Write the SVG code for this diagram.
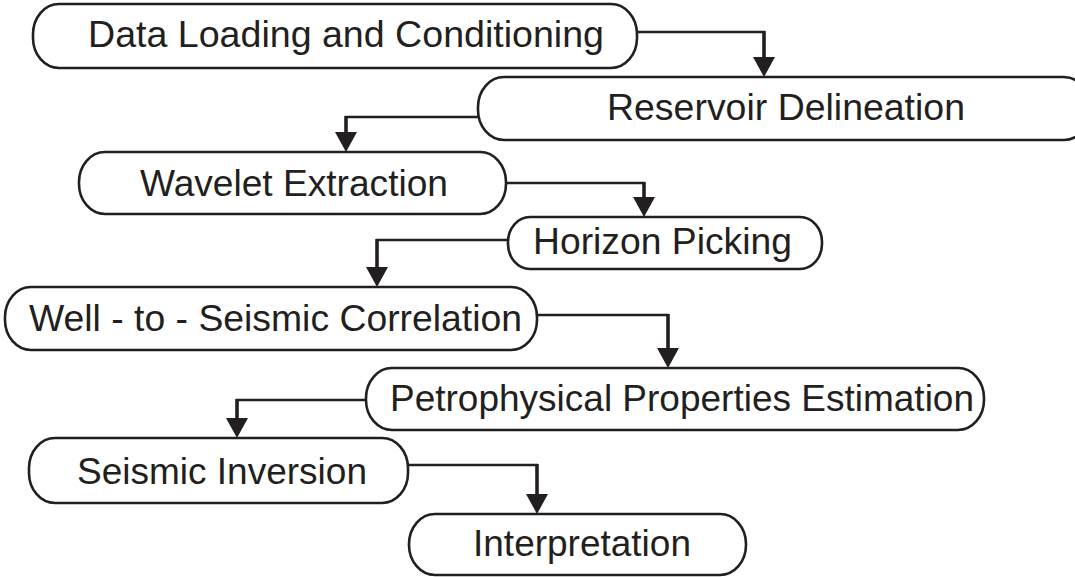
<svg xmlns="http://www.w3.org/2000/svg" width="1075" height="577" viewBox="0 0 1075 577">
<style>
.box{fill:none;stroke:#231f20;stroke-width:2.6}
.lbl{font-family:"Liberation Sans",Arial,sans-serif;font-size:36px;fill:#231f20}
.con{fill:none;stroke:#231f20;stroke-width:2.6}
.conv{fill:none;stroke:#231f20;stroke-width:3.6}
</style>
<defs>
<marker id="ah" markerUnits="userSpaceOnUse" markerWidth="20" markerHeight="22" refX="0" refY="11" orient="auto">
<path d="M0,0 L20,11 L0,22 Z" fill="#231f20"/>
</marker>
</defs>
<rect width="1075" height="577" fill="#ffffff"/>

<g id="n1"><rect class="box" x="33" y="4" width="604" height="64" rx="26" ry="30"/><text class="lbl" x="88" y="47" textLength="516" lengthAdjust="spacingAndGlyphs">Data Loading and Conditioning</text></g>
<g id="n2"><rect class="box" x="478" y="77" width="612" height="63" rx="26" ry="30"/><text class="lbl" x="607" y="120" textLength="358" lengthAdjust="spacingAndGlyphs">Reservoir Delineation</text></g>
<g id="n3"><rect class="box" x="79" y="152" width="427" height="62" rx="26" ry="30"/><text class="lbl" x="140" y="196" textLength="308" lengthAdjust="spacingAndGlyphs">Wavelet Extraction</text></g>
<g id="n4"><rect class="box" x="508" y="217" width="314" height="52" rx="22" ry="25"/><text class="lbl" x="533" y="254" textLength="259" lengthAdjust="spacingAndGlyphs">Horizon Picking</text></g>
<g id="n5"><rect class="box" x="5" y="287" width="532" height="63" rx="26" ry="30"/><text class="lbl" x="29" y="331" textLength="493" lengthAdjust="spacingAndGlyphs">Well - to - Seismic Correlation</text></g>
<g id="n6"><rect class="box" x="366" y="368" width="618" height="62" rx="26" ry="30"/><text class="lbl" x="390" y="411" textLength="584" lengthAdjust="spacingAndGlyphs">Petrophysical Properties Estimation</text></g>
<g id="n7"><rect class="box" x="29" y="438" width="379" height="65" rx="26" ry="30"/><text class="lbl" x="77" y="484" textLength="290" lengthAdjust="spacingAndGlyphs">Seismic Inversion</text></g>
<g id="n8"><rect class="box" x="409" y="514" width="337" height="61" rx="26" ry="30"/><text class="lbl" x="473" y="556" textLength="218" lengthAdjust="spacingAndGlyphs">Interpretation</text></g>

<g id="connectors">
<path class="con" d="M637,32 H765"/><path class="conv" d="M764,31 V57" marker-end="url(#ah)"/>
<path class="con" d="M478,117 H345"/><path class="conv" d="M346,116 V132" marker-end="url(#ah)"/>
<path class="con" d="M506,183 H645"/><path class="conv" d="M644,182 V197" marker-end="url(#ah)"/>
<path class="con" d="M508,240 H376"/><path class="conv" d="M377,239 V267" marker-end="url(#ah)"/>
<path class="con" d="M537,315 H669"/><path class="conv" d="M668,314 V348" marker-end="url(#ah)"/>
<path class="con" d="M366,400 H236"/><path class="conv" d="M237,399 V418" marker-end="url(#ah)"/>
<path class="con" d="M408,465 H538"/><path class="conv" d="M537,464 V494" marker-end="url(#ah)"/>
</g>
</svg>
